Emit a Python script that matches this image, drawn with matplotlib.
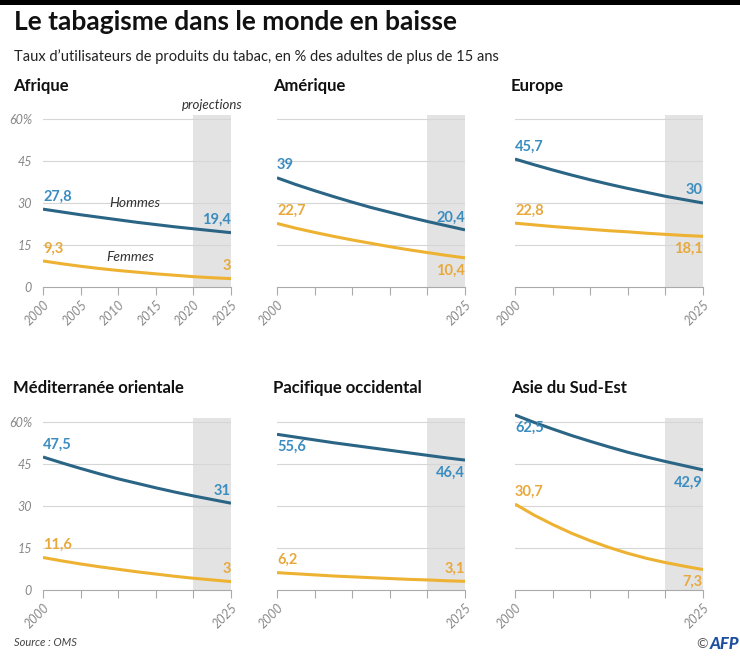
import matplotlib
matplotlib.use("Agg")
import matplotlib.pyplot as plt

plt.rcParams['font.family'] = ['Lato', 'DejaVu Sans']

years = [2000, 2002.5, 2005, 2007.5, 2010, 2012.5, 2015, 2017.5, 2020, 2022.5, 2025]
xticks = [2000, 2005, 2010, 2015, 2020, 2025]
regions = ["Afrique", "Amérique", "Europe",
           "Méditerranée orientale", "Pacifique occidental", "Asie du Sud-Est"]
hommes = [
    [27.8, 26.8, 25.8, 24.9, 24.0, 23.1, 22.3, 21.5, 20.8, 20.1, 19.4],
    [39.0, 36.6, 34.4, 32.3, 30.3, 28.4, 26.7, 25.0, 23.4, 21.9, 20.4],
    [45.7, 43.7, 41.8, 40.0, 38.3, 36.7, 35.2, 33.8, 32.4, 31.2, 30.0],
    [47.5, 45.4, 43.4, 41.5, 39.7, 38.1, 36.5, 35.0, 33.6, 32.3, 31.0],
    [55.6, 54.6, 53.6, 52.6, 51.7, 50.8, 49.9, 49.0, 48.1, 47.2, 46.4],
    [62.5, 59.9, 57.5, 55.2, 53.1, 51.1, 49.2, 47.5, 45.9, 44.4, 42.9],
]
femmes = [
    [9.3, 8.3, 7.4, 6.6, 5.9, 5.3, 4.7, 4.2, 3.7, 3.3, 3.0],
    [22.7, 21.0, 19.5, 18.1, 16.8, 15.6, 14.4, 13.3, 12.3, 11.3, 10.4],
    [22.8, 22.2, 21.6, 21.1, 20.6, 20.1, 19.7, 19.2, 18.8, 18.4, 18.1],
    [11.6, 10.4, 9.3, 8.3, 7.4, 6.5, 5.7, 4.9, 4.2, 3.6, 3.0],
    [6.2, 5.8, 5.4, 5.0, 4.7, 4.4, 4.1, 3.8, 3.6, 3.3, 3.1],
    [30.7, 26.8, 23.4, 20.3, 17.6, 15.2, 13.1, 11.3, 9.8, 8.5, 7.3],
]
h_lbl = ["27,8", "19,4", "39", "20,4", "45,7", "30", "47,5", "31", "55,6", "46,4", "62,5", "42,9"]
f_lbl = ["9,3", "3", "22,7", "10,4", "22,8", "18,1", "11,6", "3", "6,2", "3,1", "30,7", "7,3"]
# label placement: +1 above, -1 below  (start, end)
h_pos = [(1, 1), (1, 1), (1, 1), (1, 1), (-1, -1), (-1, -1)]
f_pos = [(1, 1), (1, -1), (1, -1), (1, 1), (1, 1), (1, -1)]
yticks = [0, 15, 30, 45, 60]
ytick_labels = ["0", "15", "30", "45", "60%"]

C_H = "#2b6585"
C_HL = "#3b8dc0"
C_F = "#eeb232"
C_FL = "#e8a93c"
GREY = "#888888"

W, H = 740, 660
fig = plt.figure(figsize=(7.4, 6.6), dpi=100)

# top black band
fig.add_artist(plt.Rectangle((0, 1 - 5 / H), 1, 5 / H, transform=fig.transFigure,
                             color="black", lw=0))
fig.text(14 / W, 1 - 22 / H, "Le tabagisme dans le monde en baisse", fontsize=19,
         fontweight="bold", va="center", ha="left", color="#111111")
fig.text(14 / W, 1 - 57 / H, "Taux d\u2019utilisateurs de produits du tabac, en % des adultes de plus de 15 ans",
         fontsize=10.5, va="center", ha="left", color="#222222")

col_x = [43, 277, 515]
row_zero = [287, 590]
unit = 2.8
x_w = 188
ytop = 64

for i, reg in enumerate(regions):
    r, c = divmod(i, 3)
    x0 = col_x[c]
    y0 = row_zero[r]
    ax = fig.add_axes([x0 / W, (H - y0) / H, x_w / W, ytop * unit / H])
    ax.set_xlim(2000, 2025)
    ax.set_ylim(0, ytop)
    ax.patch.set_alpha(0)
    for s in ["left", "right", "top"]:
        ax.spines[s].set_visible(False)
    ax.spines["bottom"].set_color("#aaaaaa")
    ax.spines["bottom"].set_linewidth(0.8)
    ax.fill_between([2020, 2025], 0, 61.5, color="#e3e3e3", lw=0, zorder=0)
    for yv in yticks[1:]:
        ax.axhline(yv, color="#d6d6d6", lw=0.8, zorder=1)
    ax.set_yticks(yticks)
    if c == 0:
        ax.set_yticklabels(ytick_labels, fontsize=9, style="italic", color=GREY)
    else:
        ax.set_yticklabels([])
    ax.tick_params(axis="y", length=0, pad=8)
    ax.set_xticks(xticks)
    if i == 0:
        ax.set_xticklabels([str(y) for y in xticks])
    else:
        ax.set_xticklabels(["2000", "", "", "", "", "2025"])
    ax.tick_params(axis="x", length=6, color="#aaaaaa", labelsize=9, labelcolor=GREY, pad=2)
    for t in ax.get_xticklabels():
        t.set_rotation(45)
        t.set_style("italic")
        t.set_ha("right")
        t.set_va("top")
        t.set_rotation_mode("anchor")

    ax.plot(years, hommes[i], color=C_H, lw=2.2, zorder=3, solid_capstyle="butt")
    ax.plot(years, femmes[i], color=C_F, lw=2.2, zorder=3, solid_capstyle="butt")

    for vals, lbls, pos, col in [(hommes[i], h_lbl, h_pos[i], C_HL),
                                 (femmes[i], f_lbl, f_pos[i], C_FL)]:
        for k, (xv, yv, ha) in enumerate([(2000, vals[0], "left"), (2025, vals[-1], "right")]):
            d = pos[k]
            off = 4 if d > 0 else -4
            ax.annotate(lbls[2 * i + k], (xv, yv), xytext=(0, off), textcoords="offset points",
                        ha=ha, va="bottom" if d > 0 else "top", fontsize=10.5,
                        fontweight="bold", color=col, zorder=4, annotation_clip=False)

    fig.text((x0 - 30) / W if c == 0 else (x0 - 4) / W, 1 - (86 if r == 0 else 388) / H, reg,
             fontsize=12, fontweight="bold", va="center", ha="left", color="#111111")

    if i == 0:
        ax.text(2012.2, 30, "Hommes", fontsize=10, style="italic", color="#333333",
                ha="center", va="center")
        ax.text(2011.6, 10.7, "Femmes", fontsize=10, style="italic", color="#333333",
                ha="center", va="center")
        ax.text(2022.5, 65, "projections", fontsize=9.5, style="italic", color="#333333",
                ha="center", va="center", clip_on=False)

fig.text(14 / W, 1 - 643 / H, "Source : OMS", fontsize=8, style="italic", color="#444444",
         va="center", ha="left")
fig.text(708 / W, 1 - 644 / H, "\u00a9", fontsize=10, color="#555555", va="center", ha="right")
fig.text(710 / W, 1 - 644 / H, "AFP", fontsize=12, fontweight="black", style="italic",
         color="#1d4fa0", va="center", ha="left")

fig.savefig("out.png", dpi=100)
